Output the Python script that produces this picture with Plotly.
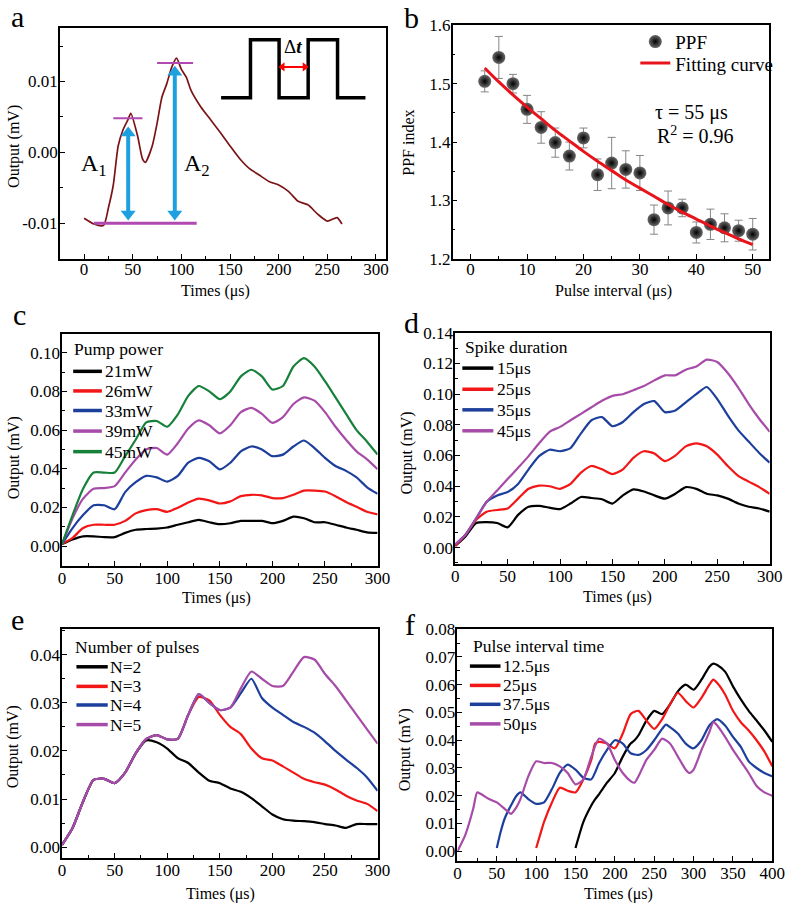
import plotly.graph_objects as go

FONT = "Liberation Serif"
W, H = 800, 918

# ---------------- data ----------------
# panel a
a_time = [0, 10, 20, 25, 30, 35, 40, 45, 48, 55, 60, 63, 70, 75, 80, 85, 90, 95, 100, 105, 110,
          120, 130, 140, 150, 160, 170, 180, 190, 200, 210, 220, 230, 240, 250, 260, 265]
a_output = [-0.0093, -0.0101, -0.0103, -0.0078, -0.0046, 0.0009, 0.0032, 0.0046, 0.0055, 0.0023,
            -0.0009, -0.0014, 0.0009, 0.0041, 0.0078, 0.0097, 0.0120, 0.0133, 0.0117, 0.0106, 0.0087,
            0.0064, 0.0046, 0.0028, 0.0009, -0.0009, -0.0023, -0.0032, -0.0041, -0.0046, -0.0055,
            -0.0069, -0.0074, -0.0087, -0.0097, -0.0092, -0.0101]
a_pulse_t = [140.8, 171, 171, 200.4, 200.4, 230.3, 230.3, 260.5, 260.5, 289.2]
a_pulse_v = [0.0077, 0.0077, 0.0159, 0.0159, 0.0077, 0.0077, 0.0159, 0.0159, 0.0077, 0.0077]
a_baseline = -0.0100
a_peak1 = 0.0048
a_peak2 = 0.0126
a_t1 = 45.3
a_t2 = 93.2
a_dt_start = 200.4
a_dt_end = 230.3
a_dt_level = 0.01206

# panel b
b_interval = [2.5, 5, 7.5, 10, 12.5, 15, 17.5, 20, 22.5, 25, 27.5, 30, 32.5, 35, 37.5, 40, 42.5, 45, 47.5, 50]
b_ppf = [1.504, 1.545, 1.500, 1.456, 1.425, 1.399, 1.376, 1.407, 1.344, 1.364, 1.353, 1.347,
         1.267, 1.287, 1.287, 1.245, 1.259, 1.253, 1.248, 1.242]
b_err = [0.018, 0.036, 0.016, 0.024, 0.027, 0.025, 0.024, 0.017, 0.027, 0.044, 0.032, 0.030,
         0.025, 0.029, 0.015, 0.018, 0.026, 0.024, 0.018, 0.027]
b_fit = [1.527, 1.503, 1.481, 1.460, 1.440, 1.420, 1.402, 1.384, 1.367, 1.351, 1.335, 1.321,
         1.307, 1.293, 1.280, 1.268, 1.256, 1.245, 1.234, 1.224]

# panel c
c_time = list(range(0, 301, 10))
c_21 = [0.001, 0.0034, 0.005, 0.005, 0.0046, 0.0046, 0.0068, 0.0084, 0.0088, 0.009, 0.0096, 0.011,
        0.0123, 0.0135, 0.0123, 0.0113, 0.0118, 0.013, 0.013, 0.013, 0.0118, 0.013, 0.0152, 0.0144,
        0.0123, 0.0123, 0.011, 0.0096, 0.0084, 0.0071, 0.0068]
c_26 = [0.001, 0.0042, 0.0093, 0.011, 0.011, 0.011, 0.013, 0.0169, 0.0186, 0.0191, 0.0177, 0.0198,
        0.0225, 0.0245, 0.0236, 0.022, 0.0231, 0.0258, 0.0265, 0.0262, 0.0248, 0.0248, 0.0265, 0.0287,
        0.0287, 0.0282, 0.0258, 0.0228, 0.0203, 0.0177, 0.0164]
c_33 = [0.001, 0.0093, 0.016, 0.0211, 0.0211, 0.019, 0.0279, 0.033, 0.0363, 0.0355, 0.0333, 0.0363,
        0.0431, 0.0456, 0.0439, 0.0397, 0.0431, 0.049, 0.0515, 0.050, 0.0465, 0.0473, 0.0515, 0.0546,
        0.0507, 0.0456, 0.0414, 0.0389, 0.0355, 0.0304, 0.027]
c_39 = [0.001, 0.0144, 0.0245, 0.0296, 0.030, 0.031, 0.038, 0.0448, 0.050, 0.0507, 0.0473, 0.0532,
        0.0608, 0.065, 0.0625, 0.0583, 0.0625, 0.0693, 0.0715, 0.0684, 0.0637, 0.0667, 0.0735, 0.0769,
        0.0752, 0.0693, 0.0617, 0.055, 0.049, 0.0448, 0.0397]
c_45 = [0.001, 0.016, 0.0296, 0.038, 0.038, 0.038, 0.0465, 0.055, 0.064, 0.0647, 0.0617, 0.068,
        0.0777, 0.0828, 0.080, 0.076, 0.080, 0.0878, 0.0912, 0.0878, 0.081, 0.0828, 0.0929, 0.0972,
        0.0929, 0.0853, 0.0769, 0.0684, 0.060, 0.054, 0.0473]

# panel d
d_time = list(range(0, 301, 10))
d_15 = [0.001, 0.0074, 0.016, 0.0166, 0.016, 0.0132, 0.0213, 0.0266, 0.0272, 0.026, 0.0251, 0.0287,
        0.033, 0.0323, 0.0315, 0.0287, 0.034, 0.0379, 0.0366, 0.034, 0.0319, 0.0351, 0.0394, 0.0383,
        0.0351, 0.034, 0.0319, 0.0287, 0.0266, 0.0255, 0.0234]
d_25 = [0.001, 0.0085, 0.0181, 0.0234, 0.0245, 0.0255, 0.0319, 0.0383, 0.0404, 0.04, 0.0383, 0.0415,
        0.0489, 0.0532, 0.051, 0.0479, 0.051, 0.0585, 0.0628, 0.0613, 0.0564, 0.06, 0.066, 0.068,
        0.066, 0.0606, 0.0532, 0.0468, 0.043, 0.0394, 0.0351]
d_35 = [0.002, 0.0085, 0.019, 0.0298, 0.034, 0.0362, 0.0415, 0.051, 0.0596, 0.0638, 0.0628, 0.0649,
        0.0745, 0.083, 0.0851, 0.0791, 0.0819, 0.0883, 0.0936, 0.0955, 0.0883, 0.0894, 0.0947, 0.100,
        0.1047, 0.0968, 0.0862, 0.0766, 0.0691, 0.0617, 0.0553]
d_45 = [0.002, 0.0085, 0.019, 0.0298, 0.0372, 0.0447, 0.052, 0.0596, 0.068, 0.0755, 0.0787, 0.083,
        0.0872, 0.0915, 0.0957, 0.0989, 0.100, 0.1026, 0.1053, 0.109, 0.1123, 0.1123, 0.116, 0.118,
        0.1225, 0.121, 0.1138, 0.1043, 0.0936, 0.084, 0.0755]

# panel e
e_time = list(range(0, 301, 10))
e_n2 = [0.0005, 0.004, 0.0095, 0.014, 0.0142, 0.0133, 0.0155, 0.0195, 0.0222, 0.0218, 0.0205, 0.0185,
        0.0175, 0.0155, 0.0138, 0.0133, 0.0122, 0.0115, 0.0102, 0.0085, 0.0068, 0.0058, 0.0055, 0.0054,
        0.0052, 0.0048, 0.0045, 0.004, 0.0048, 0.0048, 0.0048]
e_n3 = [0.0005, 0.004, 0.0095, 0.014, 0.0142, 0.0133, 0.0155, 0.0195, 0.0225, 0.0233, 0.0224, 0.0225,
        0.0275, 0.0312, 0.0305, 0.0275, 0.025, 0.0235, 0.0205, 0.0185, 0.018, 0.0168, 0.0155, 0.0142,
        0.0135, 0.013, 0.012, 0.0107, 0.0097, 0.009, 0.0075]
e_n4 = [0.0005, 0.004, 0.0095, 0.014, 0.0142, 0.0133, 0.0155, 0.0195, 0.0225, 0.0233, 0.0224, 0.0225,
        0.0275, 0.0318, 0.030, 0.0285, 0.029, 0.032, 0.035, 0.031, 0.029, 0.0275, 0.026, 0.025,
        0.0238, 0.022, 0.02, 0.0182, 0.0165, 0.0145, 0.0117]
e_n5 = [0.0005, 0.004, 0.0095, 0.014, 0.0142, 0.0133, 0.0155, 0.0195, 0.0225, 0.0233, 0.0224, 0.0225,
        0.0275, 0.0318, 0.030, 0.0285, 0.029, 0.033, 0.0365, 0.035, 0.0335, 0.0335, 0.0365, 0.0395,
        0.039, 0.036, 0.0335, 0.0305, 0.0275, 0.0245, 0.0215]

# panel f
f_t125 = [150, 160, 170, 175, 180, 190, 200, 210, 220, 225, 230, 240, 250, 260, 270, 280, 290, 300,
          310, 320, 325, 330, 340, 350, 360, 370, 380, 390, 400]
f_125 = [0.0012, 0.0106, 0.0165, 0.0188, 0.0206, 0.0247, 0.0282, 0.0341, 0.0388, 0.04, 0.0418, 0.0471,
         0.0506, 0.0494, 0.0529, 0.0576, 0.06, 0.0582, 0.0618, 0.0665, 0.0676, 0.0671, 0.0647, 0.0594,
         0.0547, 0.0506, 0.0471, 0.0435, 0.0394]
f_t25 = [100, 105, 110, 120, 130, 140, 150, 160, 170, 175, 180, 190, 200, 210, 220, 230, 240, 250, 260,
         270, 280, 290, 300, 310, 320, 325, 330, 340, 350, 360, 370, 380, 390, 400]
f_25 = [0.0012, 0.0059, 0.0106, 0.0176, 0.0229, 0.0218, 0.0212, 0.0259, 0.0329, 0.0388, 0.0394, 0.0388,
        0.0371, 0.0424, 0.0494, 0.0506, 0.0471, 0.0441, 0.0476, 0.0529, 0.0571, 0.0541, 0.0518, 0.0553,
        0.06, 0.0618, 0.0606, 0.0565, 0.0506, 0.0465, 0.0435, 0.04, 0.0359, 0.0306]
f_t375 = [50, 55, 60, 70, 75, 80, 90, 100, 110, 120, 130, 140, 150, 160, 170, 180, 190, 200, 210, 220,
          230, 240, 250, 260, 265, 270, 280, 290, 300, 310, 320, 330, 340, 350, 360, 370, 380, 390, 400]
f_375 = [0.0012, 0.0071, 0.0118, 0.0176, 0.02, 0.0212, 0.0188, 0.0171, 0.0176, 0.0224, 0.0282, 0.0312,
         0.0294, 0.0265, 0.0259, 0.0318, 0.0365, 0.04, 0.0388, 0.0353, 0.0347, 0.0365, 0.04, 0.0441,
         0.0456, 0.0447, 0.0424, 0.0388, 0.0371, 0.04, 0.0453, 0.0476, 0.0453, 0.0412, 0.0376, 0.0324,
         0.03, 0.0282, 0.027]
f_t50 = [0, 10, 20, 25, 30, 40, 50, 60, 68, 75, 80, 90, 100, 110, 120, 130, 140, 150, 160, 170, 180, 190,
         200, 210, 220, 225, 230, 240, 250, 260, 270, 280, 290, 295, 300, 310, 320, 325, 330, 340, 350,
         360, 370, 380, 390, 400]
f_50 = [0, 0.0059, 0.0153, 0.0212, 0.0206, 0.0188, 0.0176, 0.0153, 0.0135, 0.0159, 0.0188, 0.027,
        0.0324, 0.0318, 0.0318, 0.0306, 0.0282, 0.0241, 0.0259, 0.0341, 0.0406, 0.0388, 0.0329, 0.0282,
        0.0253, 0.0247, 0.027, 0.0329, 0.0365, 0.0406, 0.0388, 0.0341, 0.0294, 0.0282, 0.0294, 0.0365,
        0.0429, 0.0465, 0.0453, 0.0412, 0.0365, 0.0324, 0.0282, 0.0235, 0.0212, 0.02]

c_labels = ["21mW", "26mW", "33mW", "39mW", "45mW"]
d_labels = ["15μs", "25μs", "35μs", "45μs"]
e_labels = ["N=2", "N=3", "N=4", "N=5"]
f_labels = ["12.5μs", "25μs", "37.5μs", "50μs"]

# ---------------- styling ----------------
BLACK = "#000000"
RED = "#F21616"
BLUE = "#1D3F9C"
MAG = "#A64CA8"
GREEN = "#17803A"
BROWN = "#7B1416"
SKY = "#1EA0E0"
PURP = "#B04AB0"


def PX(x):
    return x / W


def PY(y):
    return 1 - y / H


fig = go.Figure()


def line(x, y, color, ax, width=2.2, name=None):
    fig.add_trace(go.Scatter(x=x, y=y, mode="lines", xaxis=ax[0], yaxis=ax[1],
                             line=dict(color=color, width=width, shape="spline", smoothing=0.6),
                             showlegend=False, name=name, hoverinfo="skip"))


# panel a
line(a_time, a_output, BROWN, ("x", "y"), 1.7)
fig.add_trace(go.Scatter(x=a_pulse_t, y=a_pulse_v, mode="lines", xaxis="x", yaxis="y",
                         line=dict(color=BLACK, width=3.5), showlegend=False, hoverinfo="skip"))

# double-headed arrows drawn as line + triangle markers (px offsets converted to data units)
HEAD_Y = 0.0007   # ~5 px in panel a's y units
for tx, top in [(a_t1, a_peak1 - 0.00135), (a_t2, a_peak2 - 0.0006)]:
    fig.add_trace(go.Scatter(x=[tx, tx], y=[top - HEAD_Y, a_baseline + 0.0006 + HEAD_Y], mode="lines+markers",
                             xaxis="x", yaxis="y", line=dict(color=SKY, width=4),
                             marker=dict(symbol=["triangle-up", "triangle-down"], size=13, color=SKY,
                                         line=dict(width=0)),
                             showlegend=False, hoverinfo="skip"))
HEAD_X = 3.5      # ~3.5 px in panel a's x units
fig.add_trace(go.Scatter(x=[a_dt_start + HEAD_X, a_dt_end - HEAD_X], y=[a_dt_level, a_dt_level],
                         mode="lines+markers", xaxis="x", yaxis="y", line=dict(color="#FF0000", width=2),
                         marker=dict(symbol=["triangle-left", "triangle-right"], size=8, color="#FF0000",
                                     line=dict(width=0)),
                         showlegend=False, hoverinfo="skip"))

# panel b
fig.add_trace(go.Scatter(x=b_interval, y=b_ppf, mode="markers", xaxis="x2", yaxis="y2", name="PPF",
                         marker=dict(size=13, color="#6a6a6a", gradient=dict(type="radial", color="#000000"),
                                     line=dict(width=0)),
                         error_y=dict(type="data", array=b_err, color="#858585", thickness=1, width=4),
                         showlegend=True, legend="legend"))
fig.add_trace(go.Scatter(x=b_interval, y=b_fit, mode="lines", xaxis="x2", yaxis="y2", name="Fitting curve",
                         line=dict(color="#E8141B", width=3, shape="spline"), showlegend=True,
                         legend="legend2"))

for ys, c in zip([c_21, c_26, c_33, c_39, c_45], [BLACK, RED, BLUE, MAG, GREEN]):
    line(c_time, ys, c, ("x3", "y3"))
for ys, c in zip([d_15, d_25, d_35, d_45], [BLACK, RED, BLUE, MAG]):
    line(d_time, ys, c, ("x4", "y4"))
for ys, c in zip([e_n2, e_n3, e_n4, e_n5], [BLACK, RED, BLUE, MAG]):
    line(e_time, ys, c, ("x5", "y5"))
for xs, ys, c in zip([f_t125, f_t25, f_t375, f_t50], [f_125, f_25, f_375, f_50], [BLACK, RED, BLUE, MAG]):
    line(xs, ys, c, ("x6", "y6"))

tickfont = dict(family=FONT, size=17, color=BLACK)


def mk_axes(n, xpx, ypx, xr, yr, xdt, xmin, ydt, ymin, yfmt, xfmt="d", yvals=None, ytext=None,
            xstand=-4, ystand=-3):
    sx = "" if n == 1 else str(n)
    common = dict(showline=True, linecolor=BLACK, linewidth=1.5, mirror=True, ticks="inside",
                  ticklen=5, tickwidth=1.2, tickcolor=BLACK, showgrid=False, zeroline=False,
                  tickfont=tickfont)
    xa = dict(common, domain=[PX(xpx[0]), PX(xpx[1])], range=xr, anchor="y" + sx, dtick=xdt, tick0=0,
              tickformat=xfmt, ticklabelstandoff=xstand,
              minor=dict(ticks="inside", ticklen=3, tickwidth=1, tickcolor=BLACK, dtick=xmin, tick0=0,
                         showgrid=False))
    ya = dict(common, domain=[PY(ypx[1]), PY(ypx[0])], range=yr, anchor="x" + sx,
              ticklabelstandoff=ystand,
              minor=dict(ticks="inside", ticklen=3, tickwidth=1, tickcolor=BLACK, dtick=ymin, tick0=0,
                         showgrid=False))
    if yvals is not None:
        ya.update(tickmode="array", tickvals=yvals, ticktext=ytext)
    else:
        ya.update(dtick=ydt, tick0=0, tickformat=yfmt)
    fig.layout["xaxis" + sx] = xa
    fig.layout["yaxis" + sx] = ya


mk_axes(1, (57, 390), (19, 255), [-25, 310], [-0.015, 0.0176], 50, 25, None, 0.005, None,
        yvals=[-0.01, 0.0, 0.01], ytext=["-0.01", "0.00", "0.01"], xstand=-6)
mk_axes(2, (458.3, 781.7), (16.7, 255), [-3.2, 52.9], [1.2, 1.6], 10, 5, 0.1, 0.05, ".1f", xstand=-6)
mk_axes(3, (59.3, 381.7), (331.7, 568.3), [0, 300], [-0.0101, 0.1098], 50, 25, 0.02, 0.01, ".2f")
mk_axes(4, (461, 782.3), (330.7, 566.7), [0, 300], [-0.0107, 0.14], 50, 25, 0.02, 0.01, ".2f")
mk_axes(5, (59.3, 381.7), (633.3, 866.7), [0, 300], [-0.0022, 0.0453], 50, 25, 0.01, 0.005, ".2f")
mk_axes(6, (463.3, 785), (633.3, 870), [0, 400], [-0.0035, 0.08], 50, 25, 0.01, 0.005, ".2f")

ann = []
shapes = []


def text(x, y, s, size=16, xanchor="center", yanchor="middle", angle=0):
    ann.append(dict(x=PX(x), y=PY(y), xref="paper", yref="paper", text=s, showarrow=False,
                    xanchor=xanchor, yanchor=yanchor, textangle=angle,
                    font=dict(family=FONT, size=size, color=BLACK)))


# axis titles
for (x, y) in [(216, 288), (216.7, 601.7), (626.7, 600), (221.7, 903.3), (627.5, 903.3)]:
    text(x, y, "Times (μs)")
text(623, 288, "Pulse interval (μs)")
for (x, y) in [(10, 140), (10, 458), (411.7, 453), (10, 753), (410, 756.7)]:
    text(x, y, "Output (mV)", angle=-90)
text(413.3, 137, "PPF index", angle=-90)

# panel letters
for (x, y, s) in [(13.7, 8, "a"), (416, 9, "b"), (15.5, 312, "c"), (416, 320, "d"),
                  (14, 623, "e"), (415, 628, "f")]:
    text(x, y, s, size=30)

# panel a reference lines
for (x0, x1, yv, w) in [(10, 115.7, a_baseline, 3), (30, 60, a_peak1, 2), (75, 112, a_peak2, 2)]:
    shapes.append(dict(type="line", xref="x", yref="y", x0=x0, x1=x1, y0=yv, y1=yv,
                       line=dict(color=PURP, width=w)))
ann.append(dict(x=10, y=-0.0018, xref="x", yref="y", text="A<sub>1</sub>", showarrow=False,
                font=dict(family=FONT, size=24, color=BLACK)))
ann.append(dict(x=115.6, y=-0.0018, xref="x", yref="y", text="A<sub>2</sub>", showarrow=False,
                font=dict(family=FONT, size=24, color=BLACK)))
ann.append(dict(x=215, y=0.0150, xref="x", yref="y", text="Δ<b><i>t</i></b>", showarrow=False,
                font=dict(family=FONT, size=19, color=BLACK)))

# panel b text
text(702, 106, "τ = 55 μs", size=20)
text(707, 129, "R<sup>2</sup> = 0.96", size=20)


# manual legends
def legend(title, tx, ty, labels, colors, lx0, lx1, txt_x, rows):
    text(tx, ty, title, size=17.5, xanchor="left")
    for lab, col, ry in zip(labels, colors, rows):
        shapes.append(dict(type="line", xref="paper", yref="paper", x0=PX(lx0), x1=PX(lx1),
                           y0=PY(ry), y1=PY(ry), line=dict(color=col, width=3.5)))
        text(txt_x, ry, lab, size=17.5, xanchor="left")


legend("Pump power", 69, 346.7, c_labels, [BLACK, RED, BLUE, MAG, GREEN], 70.7, 100, 101,
       [370, 390, 410, 431, 452])
legend("Spike duration", 469, 345, d_labels, [BLACK, RED, BLUE, MAG], 468.3, 500, 501.7,
       [366.7, 388.3, 409.3, 430.7])
legend("Number of pulses", 71, 651.7, e_labels, [BLACK, RED, BLUE, MAG], 74, 106, 106.7,
       [671.7, 691.7, 710.7, 730.7])
legend("Pulse interval time", 477, 650, f_labels, [BLACK, RED, BLUE, MAG], 476, 507.3, 508.3,
       [671, 690.7, 710, 730])

leg_common = dict(xanchor="left", yanchor="top", bgcolor="rgba(0,0,0,0)",
                  font=dict(family=FONT, size=19, color=BLACK), tracegroupgap=0, itemwidth=30)
fig.update_layout(
    width=W, height=H, margin=dict(l=0, r=0, t=0, b=0),
    paper_bgcolor="white", plot_bgcolor="white",
    font=dict(family=FONT, color=BLACK),
    annotations=ann, shapes=shapes,
    legend=dict(leg_common, x=PX(645), y=PY(14)),
    legend2=dict(leg_common, x=PX(645), y=PY(36)),
)

fig.write_html("out.html")
